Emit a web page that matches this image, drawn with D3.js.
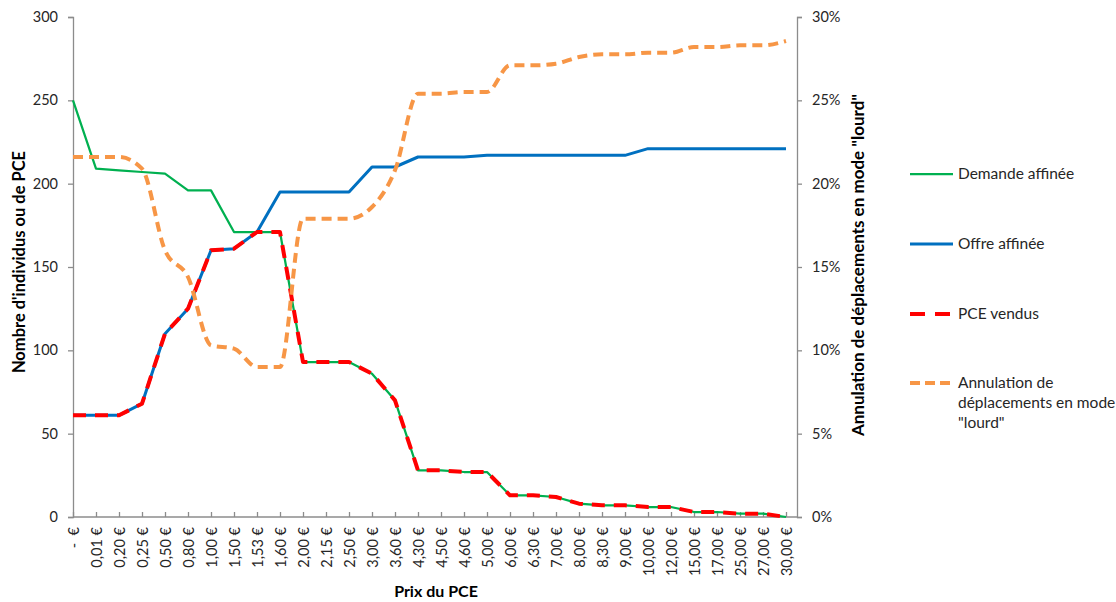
<!DOCTYPE html>
<html><head><meta charset="utf-8">
<script src="https://cdn.jsdelivr.net/npm/d3@7/dist/d3.min.js"></script>
<style>
body{margin:0;background:#fff;}
svg{font-family:Lato,"Open Sans",sans-serif;}
</style></head>
<body><svg id="c" width="1116" height="602"></svg>
<script>
const categories = ["-\u00a0\u00a0€","0,01 €","0,20 €","0,25 €","0,50 €","0,80 €","1,00 €","1,50 €","1,53 €","1,60 €","2,00 €","2,15 €","2,50 €","3,00 €","3,60 €","4,30 €","4,50 €","4,60 €","5,00 €","6,00 €","6,30 €","7,00 €","8,00 €","8,30 €","9,00 €","10,00 €","12,00 €","15,00 €","17,00 €","25,00 €","27,00 €","30,00 €"];
const demande = [250,209,208,207,206,196,196,171,171,171,93,93,93,86,70,28,28,27,27,13,13,12,8,7,7,6,6,3,3,2,2,0];
const offre = [61,61,61,68,110,125,160,161,171,195,195,195,195,210,210,216,216,216,217,217,217,217,217,217,217,221,221,221,221,221,221,221];
const vendus = [61,61,61,68,110,125,160,161,171,171,93,93,93,86,70,28,28,27,27,13,13,12,8,7,7,6,6,3,3,2,2,0];
const annulation = [0.216,0.216,0.216,0.209,0.160,0.144,0.103,0.101,0.090,0.090,0.179,0.179,0.179,0.186,0.208,0.254,0.254,0.255,0.255,0.271,0.271,0.272,0.276,0.2776,0.2776,0.2786,0.2786,0.282,0.282,0.283,0.283,0.2856];
const leftTicks = [0,50,100,150,200,250,300];
const rightTicks = [0,0.05,0.10,0.15,0.20,0.25,0.30];
const seriesNames = ["Demande affinée","Offre affinée","PCE vendus"];

const svg = d3.select("#c");
const L=73, R=797, T=17, B=517;
const x = d3.scalePoint().domain(d3.range(categories.length)).range([L,786]);
const yL = d3.scaleLinear().domain([0,300]).range([B,T]);
const yR = d3.scaleLinear().domain([0,0.30]).range([B,T]);
const axisColor="#8c8c8c", txt="#262626";

const gl = svg.append("g").attr("transform",`translate(${L},0)`)
  .call(d3.axisLeft(yL).tickValues(leftTicks).tickSize(5).tickPadding(10));
const gr = svg.append("g").attr("transform",`translate(${R},0)`)
  .call(d3.axisRight(yR).tickValues(rightTicks).tickSize(5).tickPadding(10).tickFormat(d3.format(".0%")));
const gb = svg.append("g").attr("transform",`translate(0,${B})`)
  .call(d3.axisBottom(x).tickSize(-5).tickFormat(i=>categories[i]));
gb.select(".domain").attr("d",`M${L},0H${R}`);
gb.selectAll(".tick text").attr("transform","rotate(-90)").attr("text-anchor","end")
  .attr("x",-10).attr("y",0).attr("dy","0.35em").style("white-space","pre");
[gl,gr,gb].forEach(g=>{
  g.selectAll(".domain").attr("stroke",axisColor).attr("stroke-width",1.3);
  g.selectAll(".tick line").attr("stroke",axisColor).attr("stroke-width",1.3);
  g.selectAll(".tick text").attr("fill",txt).style("font-size","14.5px").style("font-family","Lato");
});

const lineL = d3.line().x((d,i)=>x(i)).y(d=>yL(d));
const lineR = d3.line().x((d,i)=>x(i)).y(d=>yR(d)).curve(d3.curveMonotoneX);
svg.append("path").datum(demande).attr("d",lineL).attr("fill","none").attr("stroke","#00B050").attr("stroke-width",2.25).attr("stroke-linejoin","round");
svg.append("path").datum(offre).attr("d",lineL).attr("fill","none").attr("stroke","#0070C0").attr("stroke-width",3).attr("stroke-linejoin","round");
svg.append("path").datum(vendus).attr("d",lineL).attr("fill","none").attr("stroke","#FF0000").attr("stroke-width",4).attr("stroke-dasharray","13,9").attr("stroke-linejoin","round");
svg.append("path").datum(annulation).attr("d",lineR).attr("fill","none").attr("stroke","#F79646").attr("stroke-width",4).attr("stroke-dasharray","10,6").attr("stroke-linejoin","round");

svg.append("text").attr("transform","translate(25,262) rotate(-90)").attr("text-anchor","middle")
  .style("font-size","16.5px").style("font-weight","bold").attr("fill","#000").text("Nombre d'individus ou de PCE");
svg.append("text").attr("transform","translate(864,265) rotate(-90)").attr("text-anchor","middle")
  .style("font-size","17px").style("font-weight","bold").attr("fill","#000").text("Annulation de déplacements en mode \"lourd\"");
svg.append("text").attr("x",436).attr("y",597).attr("text-anchor","middle")
  .style("font-size","16px").style("font-weight","bold").attr("fill","#000").text("Prix du PCE");

const leg = [
  {color:"#00B050",w:2.25,dash:null,y:174,lines:[seriesNames[0]]},
  {color:"#0070C0",w:3,dash:null,y:244,lines:[seriesNames[1]]},
  {color:"#FF0000",w:4,dash:"15,10",y:314,lines:[seriesNames[2]]},
  {color:"#F79646",w:4,dash:"10,5",y:383,lines:["Annulation de","déplacements en mode","\"lourd\""]}
];
leg.forEach(l=>{
  svg.append("line").attr("x1",910).attr("x2",953).attr("y1",l.y).attr("y2",l.y)
    .attr("stroke",l.color).attr("stroke-width",l.w).attr("stroke-dasharray",l.dash);
  const t = svg.append("text").attr("x",958).attr("y",l.y).attr("fill",txt).style("font-size","15.5px");
  l.lines.forEach((s,k)=>t.append("tspan").attr("x",958).attr("dy",k===0?"0.35em":"1.27em").text(s));
});
</script></body></html>
